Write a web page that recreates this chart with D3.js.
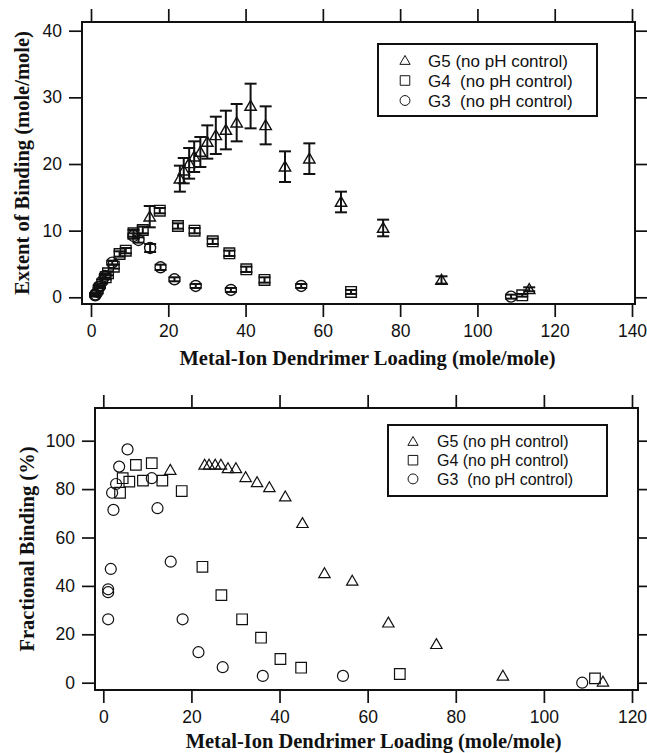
<!DOCTYPE html>
<html>
<head>
<meta charset="utf-8">
<script src="https://cdn.jsdelivr.net/npm/d3@7"></script>
<style>
  body { margin: 0; background: #fff; }
  svg { display: block; }
  .tick text { font-family: "Liberation Sans", Arial, sans-serif; font-size: 17.5px; fill: #111; }
  .tick line { stroke: #111; stroke-width: 1.7; }
  .title { font-family: "Liberation Serif", "Times New Roman", serif; font-weight: bold; font-size: 20.5px; fill: #111; }
  .legend text { font-family: "Liberation Sans", Arial, sans-serif; fill: #111; white-space: pre; }
</style>
</head>
<body>
<svg id="chart" width="647" height="753"></svg>
<script>
// loading (mole/mole), extent of binding (mole/mole) with error, fractional binding (%)
const g5Loading = [15.2, 23.0, 24.0, 25.4, 26.7, 28.3, 30.1, 32.3, 34.9, 37.7, 41.3, 45.2, 50.2, 56.5, 64.7, 75.6, 90.7, 113.4];
const g5Extent  = [12.1, 17.8, 19.0, 20.1, 21.1, 21.8, 23.3, 24.3, 25.1, 26.2, 28.7, 25.8, 19.6, 20.8, 14.3, 10.4, 2.6, 1.2];
const g5Err     = [1.6, 1.95, 1.9, 2.3, 2.3, 2.25, 2.5, 2.8, 2.9, 2.8, 3.35, 2.85, 2.3, 2.3, 1.55, 1.25, 0.55, 0.3];
const g5Frac    = [87.9, 90.0, 90.0, 90.0, 90.0, 88.6, 88.6, 84.9, 82.8, 80.7, 76.9, 65.9, 45.2, 42.1, 24.8, 15.9, 2.8, 0.4];

const g4Loading = [3.8, 4.4, 5.9, 7.4, 9.0, 11.0, 13.4, 17.8, 22.5, 26.8, 31.5, 35.8, 40.2, 44.9, 67.3, 111.6];
const g4Extent  = [3.0, 3.6, 4.6, 6.5, 7.0, 9.6, 10.1, 13.0, 10.7, 10.0, 8.4, 6.6, 4.2, 2.6, 0.8, 0.3];
const g4Err     = [0.3, 0.3, 0.3, 0.4, 0.4, 0.5, 0.5, 0.4, 0.4, 0.4, 0.4, 0.4, 0.4, 0.4, 0.3, 0.2];
const g4Frac    = [78.5, 84.5, 83.1, 90.0, 83.5, 90.7, 83.5, 79.2, 47.9, 36.2, 26.2, 18.6, 9.8, 6.2, 3.6, 1.8];

const g3Loading = [1.1, 1.1, 1.1, 1.7, 2.0, 2.3, 2.9, 3.6, 5.5, 11.0, 12.3, 15.3, 18.0, 21.6, 27.1, 36.2, 54.4, 108.7];
const g3Extent  = [0.3, 0.4, 0.4, 0.8, 1.6, 1.6, 2.4, 3.2, 5.2, 9.2, 8.6, 7.4, 4.5, 2.7, 1.7, 1.1, 1.7, 0.1];
const g3Err     = [0.2, 0.2, 0.2, 0.2, 0.2, 0.2, 0.3, 0.3, 0.3, 0.4, 0.4, 0.6, 0.4, 0.3, 0.3, 0.3, 0.3, 0.3];
const g3Frac    = [26.2, 37.4, 38.6, 47.0, 78.5, 71.4, 82.1, 89.3, 96.4, 84.5, 72.1, 50.0, 26.2, 12.6, 6.4, 2.8, 2.8, 0.0];

const topXTicks = [0, 20, 40, 60, 80, 100, 120, 140];
const topYTicks = [0, 10, 20, 30, 40];
const botXTicks = [0, 20, 40, 60, 80, 100, 120];
const botYTicks = [0, 20, 40, 60, 80, 100];

const topLegend = ["G5 (no pH control)", "G4  (no pH control)", "G3  (no pH control)"];
const botLegend = ["G5 (no pH control)", "G4 (no pH control)", "G3  (no pH control)"];

const xTitle = "Metal-Ion Dendrimer Loading (mole/mole)";

const shapes = {
    tri: "M0,-5.6L5.7,4.3L-5.7,4.3Z",
    sq: "M-5.3,-5.3H5.3V5.3H-5.3Z",
    circ: "M5.5,0A5.5,5.5 0 1,1 -5.5,0A5.5,5.5 0 1,1 5.5,0Z"
};

const svg = d3.select("#chart");

function zip(xs, ys, es) {
    return xs.map((x, i) => ({ x, y: ys[i], e: es ? es[i] : 0 }));
}

function drawPanel({ frame, x, y, xTicks, yTicks, yTitle, series, legend, legendBox, errors, markStroke }) {
    const g = svg.append("g");

    // axes sit on the frame edges, ticks pointing out
    g.append("g").attr("transform", `translate(0,${frame.bottom})`)
        .call(d3.axisBottom(x).tickValues(xTicks).tickSize(13).tickPadding(8).tickSizeOuter(0))
        .call(a => a.select(".domain").remove());
    g.append("g").attr("transform", `translate(0,${frame.top})`)
        .call(d3.axisTop(x).tickValues(xTicks).tickSize(13).tickFormat("").tickSizeOuter(0))
        .call(a => a.select(".domain").remove());
    g.append("g").attr("transform", `translate(${frame.left},0)`)
        .call(d3.axisLeft(y).tickValues(yTicks).tickSize(13).tickPadding(7).tickSizeOuter(0))
        .call(a => a.select(".domain").remove());
    g.append("g").attr("transform", `translate(${frame.right},0)`)
        .call(d3.axisRight(y).tickValues(yTicks).tickSize(13).tickFormat("").tickSizeOuter(0))
        .call(a => a.select(".domain").remove());

    g.append("rect")
        .attr("x", frame.left).attr("y", frame.top)
        .attr("width", frame.right - frame.left).attr("height", frame.bottom - frame.top)
        .attr("fill", "none").attr("stroke", "#111").attr("stroke-width", 2);

    series.forEach(s => {
        const sg = g.append("g");
        if (errors) {
            const eb = sg.selectAll(".eb").data(s.data).enter().append("g").attr("class", "eb");
            eb.append("line")
                .attr("x1", d => x(d.x)).attr("x2", d => x(d.x))
                .attr("y1", d => y(d.y - d.e)).attr("y2", d => y(d.y + d.e));
            eb.append("line")
                .attr("x1", d => x(d.x) - 6).attr("x2", d => x(d.x) + 6)
                .attr("y1", d => y(d.y + d.e)).attr("y2", d => y(d.y + d.e));
            eb.append("line")
                .attr("x1", d => x(d.x) - 6).attr("x2", d => x(d.x) + 6)
                .attr("y1", d => y(d.y - d.e)).attr("y2", d => y(d.y - d.e));
            eb.selectAll("line").attr("stroke", "#111").attr("stroke-width", 2);
        }
        sg.selectAll(".pt").data(s.data).enter().append("path")
            .attr("class", "pt")
            .attr("d", shapes[s.shape])
            .attr("transform", d => `translate(${x(d.x)},${y(d.y)})`)
            .attr("fill", "none").attr("stroke", "#111").attr("stroke-width", markStroke);
    });

    // legend
    const lg = g.append("g").attr("class", "legend");
    lg.append("rect")
        .attr("x", legendBox.x).attr("y", legendBox.y)
        .attr("width", legendBox.w).attr("height", legendBox.h)
        .attr("fill", "#fff").attr("stroke", "#111").attr("stroke-width", 2);
    legend.forEach((label, i) => {
        const cy = legendBox.y + legendBox.first + i * legendBox.step;
        lg.append("path")
            .attr("d", shapes[series[i].shape])
            .attr("transform", `translate(${legendBox.x + legendBox.sym},${cy}) scale(0.9)`)
            .attr("fill", "none").attr("stroke", "#111").attr("stroke-width", 1.1);
        lg.append("text")
            .attr("x", legendBox.x + legendBox.txt).attr("y", cy)
            .attr("dy", "0.36em")
            .style("font-size", legendBox.font + "px")
            .text(label);
    });

    // titles
    g.append("text").attr("class", "title")
        .attr("x", (x(xTicks[0]) + x(xTicks[xTicks.length - 1])) / 2 + 6)
        .attr("y", frame.bottom + frame.xtitleDy)
        .attr("text-anchor", "middle")
        .text(xTitle);
    g.append("text").attr("class", "title")
        .attr("transform", `translate(${frame.ytitleX},${(frame.top + frame.bottom) / 2}) rotate(-90)`)
        .attr("text-anchor", "middle")
        .text(yTitle);
}

// top panel: extent of binding
drawPanel({
    frame: { left: 82, right: 635, top: 22, bottom: 304, ytitleX: 29, xtitleDy: 61 },
    x: d3.scaleLinear().domain([0, 140]).range([91, 632]),
    y: d3.scaleLinear().domain([0, 40]).range([297.3, 30.7]),
    xTicks: topXTicks,
    yTicks: topYTicks,
    yTitle: "Extent of Binding (mole/mole)",
    errors: true,
    markStroke: 1.4,
    series: [
        { shape: "tri", data: zip(g5Loading, g5Extent, g5Err) },
        { shape: "sq", data: zip(g4Loading, g4Extent, g4Err) },
        { shape: "circ", data: zip(g3Loading, g3Extent, g3Err) }
    ],
    legend: topLegend,
    legendBox: { x: 378, y: 44, w: 219, h: 72, first: 16.5, step: 20, sym: 27, txt: 50, font: 17 }
});

// bottom panel: fractional binding
drawPanel({
    frame: { left: 95, right: 638, top: 408, bottom: 690, ytitleX: 34, xtitleDy: 58 },
    x: d3.scaleLinear().domain([0, 120]).range([103.3, 632]),
    y: d3.scaleLinear().domain([0, 100]).range([682.7, 440.7]),
    xTicks: botXTicks,
    yTicks: botYTicks,
    yTitle: "Fractional Binding (%)",
    errors: false,
    markStroke: 1.2,
    series: [
        { shape: "tri", data: zip(g5Loading, g5Frac) },
        { shape: "sq", data: zip(g4Loading, g4Frac) },
        { shape: "circ", data: zip(g3Loading, g3Frac) }
    ],
    legend: botLegend,
    legendBox: { x: 388, y: 425, w: 219, h: 71, first: 16.5, step: 18.7, sym: 25, txt: 49, font: 16 }
});
</script>
</body>
</html>
